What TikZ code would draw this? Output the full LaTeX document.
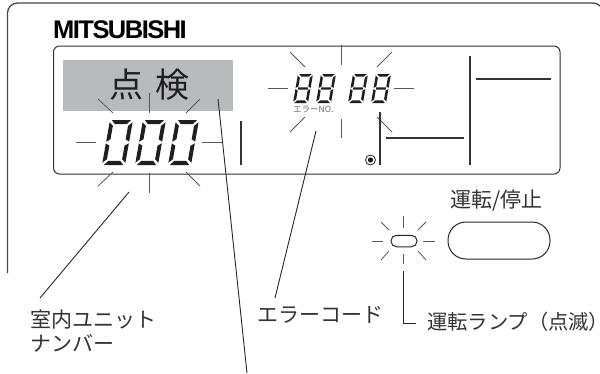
\documentclass[tikz,border=0pt]{standalone}
\usepackage{fontspec}
\setmainfont{Noto Sans CJK JP}
\newfontfamily\logofont{Liberation Sans Bold}[LetterSpace=-6]
\definecolor{grayband}{HTML}{B9BABC}
\newcommand{\segs}[1]{%
  \fill[segfill] (.08,0)--(.92,0)--(.76,.09)--(.24,.09)--cycle;
  \fill[segfill] (.08,1)--(.92,1)--(.76,.91)--(.24,.91)--cycle;
  \fill[segfill] (0,.05)--(.17,.13)--(.17,.43)--(0,.48)--cycle;
  \fill[segfill] (1,.05)--(.83,.13)--(.83,.43)--(1,.48)--cycle;
  \fill[segfill] (0,.95)--(.17,.87)--(.17,.57)--(0,.52)--cycle;
  \fill[segfill] (1,.95)--(.83,.87)--(.83,.57)--(1,.52)--cycle;
  #1}
\newcommand{\bigzero}[1]{\begin{scope}[shift={(#1,120)},x={(23pt,0pt)},y={(-8pt,-45pt)}]\segs{}\end{scope}}
\newcommand{\smalleight}[1]{\begin{scope}[shift={(#1,74)},x={(15pt,0pt)},y={(-5pt,-29pt)}]\segs{\fill[segfill] (.17,.46)--(.83,.46)--(.83,.54)--(.17,.54)--cycle;}\end{scope}}
\tikzset{
  segfill/.style={fill=black!88},
  housing/.style={draw=black!72,line width=1.3pt,rounded corners=10pt},
  dispbox/.style={draw=black!80,line width=1pt,rounded corners=6pt},
  rayline/.style={draw=black!65,line width=.8pt},
  ruleline/.style={draw=black!80,line width=1.1pt},
  leader/.style={draw=black!85,line width=.9pt},
  lab/.style={font=\fontsize{21}{23}\selectfont,text=black!80,inner sep=0pt,anchor=west,align=left},
}
\begin{document}
\begin{tikzpicture}[x=1pt,y=-1pt]
\useasboundingbox (0,0) rectangle (600,373);
% housing
\draw[housing] (7.5,273) -- (7.5,3) -- (603,3) -- (603,30);
% logo
\node[inner sep=0pt,anchor=west] (logo) at (53,29.5) {\logofont\fontsize{25.5}{27}\selectfont MITSUBISHI};
% display
\draw[dispbox] (53.5,46) rectangle (560,174);
\fill[grayband] (63,60) rectangle (233,111);
\node[font=\fontsize{34}{36}\selectfont,text=black!88,inner sep=0pt] (tenken) at (149.5,85) {点\hspace{.35em}検};
\bigzero{110}\bigzero{143}\bigzero{176}
\smalleight{298}\smalleight{321}\smalleight{353}\smalleight{376}
\node[font=\fontsize{8.5}{9}\selectfont,text=black!60,inner sep=0pt,anchor=west] (errno) at (293,109) {エラーNO.};
% rays around 000
\foreach \a/\b/\c/\d in {76/142/96/142,202/142/222/142,149/93/149/113,149/173/149/193,98/99/113/113,200/99/186/113,113/172/98/186,186/172/200/186}
  \draw[rayline] (\a,\b)--(\c,\d);
% rays around 88 88
\foreach \a/\b/\c/\d in {268/88/288/88,394/88/414/88,341/45/341/65,341/119/341/138,290/52/305/67,392/52/377/67,305/117/290/132,377/117/392/132}
  \draw[rayline] (\a,\b)--(\c,\d);
% display rules
\foreach \a/\b/\c/\d in {241/121/241/165,380/112/380/165,386/138/464/138,470/56/470/165,476/79/551/79}
  \draw[ruleline] (\a,\b)--(\c,\d);
\draw[black!85,line width=.8pt] (370.5,160) circle (5);
\fill[black!90] (370.5,160) circle (2.6);
% lamp and button
\node[draw=black!85,line width=1pt,rounded corners=5.5pt,minimum width=26pt,minimum height=11.5pt,inner sep=0pt] (lamp) at (404,241) {};
\foreach \a/\b/\c/\d in {403/216/403/228,403/254/403/264,372/241/383/241,423/241/435/241,381/222/389/230,426/222/418/230,389/251/381/260,418/251/426/260}
  \draw[rayline] (\a,\b)--(\c,\d);
\node[draw=black!85,line width=1pt,rounded corners=18pt,minimum width=102pt,minimum height=37pt,inner sep=0pt] (button) at (499,240.5) {};
\node[lab] (lbbutton) at (450,201) {運転/停止};
% labels
\node[lab] (lbunit) at (30,320) {室内ユニット};
\node[lab] (lbunit2) at (30,343) {ナンバー};
\node[lab] (lberror) at (257,315) {エラーコード};
\node[lab,font=\fontsize{20.3}{22}\selectfont] (lblamp) at (427,322) {運転ランプ（点滅{\addfontfeature{RawFeature=+halt}）}};
% leaders
\coordinate (uA) at (129,192);
\coordinate (uB) at (40,298);
\coordinate (eA) at (316,131);
\coordinate (eB) at (275,298);
\coordinate (gA) at (218,99);
\coordinate (gB) at (247,373);
\coordinate (lA) at (403,271);
\coordinate (lB) at (403,323);
\coordinate (lC) at (416,323);
\draw[leader] (uA)--(uB);
\draw[leader] (eA)--(eB);
\draw[leader] (gA)--(gB);
\draw[leader] (lA)--(lB)--(lC);
\end{tikzpicture}
\end{document}
